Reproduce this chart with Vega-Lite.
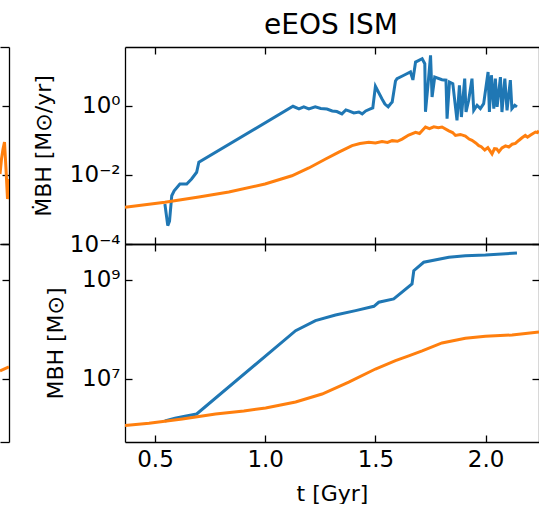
{
  "$schema": "https://vega.github.io/schema/vega-lite/v6.json",
  "padding": {"left": 0, "top": 12, "right": 0, "bottom": 0},
  "background": "white",
  "title": {"text": "eEOS ISM", "fontSize": 28, "font": "DejaVu Sans", "fontWeight": "normal", "color": "black", "anchor": "middle", "frame": "group", "dx": 331, "offset": 6},
  "datasets": {
    "top": [
      {"t": 0.545, "v": 1.44e-3, "s": "A"},
      {"t": 0.558, "v": 3.4e-4, "s": "A"},
      {"t": 0.566, "v": 4.6e-4, "s": "A"},
      {"t": 0.576, "v": 2.5e-3, "s": "A"},
      {"t": 0.587, "v": 3.5e-3, "s": "A"},
      {"t": 0.613, "v": 5.5e-3, "s": "A"},
      {"t": 0.644, "v": 5.5e-3, "s": "A"},
      {"t": 0.666, "v": 7.7e-3, "s": "A"},
      {"t": 0.689, "v": 1.2e-2, "s": "A"},
      {"t": 0.699, "v": 2.34e-2, "s": "A"},
      {"t": 1.126, "v": 0.98, "s": "A"},
      {"t": 1.153, "v": 0.82, "s": "A"},
      {"t": 1.175, "v": 0.94, "s": "A"},
      {"t": 1.198, "v": 0.82, "s": "A"},
      {"t": 1.227, "v": 0.94, "s": "A"},
      {"t": 1.252, "v": 0.85, "s": "A"},
      {"t": 1.280, "v": 0.82, "s": "A"},
      {"t": 1.304, "v": 0.72, "s": "A"},
      {"t": 1.325, "v": 0.69, "s": "A"},
      {"t": 1.348, "v": 0.59, "s": "A"},
      {"t": 1.366, "v": 0.77, "s": "A"},
      {"t": 1.379, "v": 0.72, "s": "A"},
      {"t": 1.402, "v": 0.63, "s": "A"},
      {"t": 1.425, "v": 0.67, "s": "A"},
      {"t": 1.440, "v": 0.59, "s": "A"},
      {"t": 1.456, "v": 0.72, "s": "A"},
      {"t": 1.477, "v": 0.82, "s": "A"},
      {"t": 1.488, "v": 0.875, "s": "A"},
      {"t": 1.500, "v": 3.72, "s": "A"},
      {"t": 1.511, "v": 2.72, "s": "A"},
      {"t": 1.530, "v": 1.6, "s": "A"},
      {"t": 1.543, "v": 1.14, "s": "A"},
      {"t": 1.558, "v": 0.95, "s": "A"},
      {"t": 1.568, "v": 1.14, "s": "A"},
      {"t": 1.576, "v": 1.3, "s": "A"},
      {"t": 1.591, "v": 5.3, "s": "A"},
      {"t": 1.598, "v": 6.2, "s": "A"},
      {"t": 1.629, "v": 7.8, "s": "A"},
      {"t": 1.659, "v": 9.7, "s": "A"},
      {"t": 1.670, "v": 5.7, "s": "A"},
      {"t": 1.682, "v": 18.8, "s": "A"},
      {"t": 1.712, "v": 23.5, "s": "A"},
      {"t": 1.724, "v": 16.8, "s": "A"},
      {"t": 1.727, "v": 0.68, "s": "A"},
      {"t": 1.739, "v": 4.43, "s": "A"},
      {"t": 1.750, "v": 29.5, "s": "A"},
      {"t": 1.757, "v": 1.82, "s": "A"},
      {"t": 1.769, "v": 6.9, "s": "A"},
      {"t": 1.802, "v": 5.8, "s": "A"},
      {"t": 1.820, "v": 5.6, "s": "A"},
      {"t": 1.825, "v": 0.43, "s": "A"},
      {"t": 1.836, "v": 4.96, "s": "A"},
      {"t": 1.851, "v": 4.43, "s": "A"},
      {"t": 1.870, "v": 0.385, "s": "A"},
      {"t": 1.881, "v": 3.98, "s": "A"},
      {"t": 1.890, "v": 0.48, "s": "A"},
      {"t": 1.905, "v": 6.2, "s": "A"},
      {"t": 1.911, "v": 0.67, "s": "A"},
      {"t": 1.923, "v": 1.46, "s": "A"},
      {"t": 1.938, "v": 6.2, "s": "A"},
      {"t": 1.946, "v": 0.75, "s": "A"},
      {"t": 1.961, "v": 1.05, "s": "A"},
      {"t": 1.976, "v": 0.84, "s": "A"},
      {"t": 1.991, "v": 1.17, "s": "A"},
      {"t": 2.011, "v": 9.7, "s": "A"},
      {"t": 2.017, "v": 0.67, "s": "A"},
      {"t": 2.026, "v": 7.8, "s": "A"},
      {"t": 2.037, "v": 0.84, "s": "A"},
      {"t": 2.044, "v": 6.2, "s": "A"},
      {"t": 2.052, "v": 0.94, "s": "A"},
      {"t": 2.067, "v": 6.9, "s": "A"},
      {"t": 2.074, "v": 0.67, "s": "A"},
      {"t": 2.087, "v": 6.2, "s": "A"},
      {"t": 2.097, "v": 0.75, "s": "A"},
      {"t": 2.112, "v": 5.6, "s": "A"},
      {"t": 2.119, "v": 0.84, "s": "A"},
      {"t": 2.132, "v": 1.05, "s": "A"},
      {"t": 2.142, "v": 0.94, "s": "A"},
      {"t": 0.364, "v": 1.16e-3, "s": "B"},
      {"t": 0.545, "v": 1.62e-3, "s": "B"},
      {"t": 0.699, "v": 2.3e-3, "s": "B"},
      {"t": 0.835, "v": 3.2e-3, "s": "B"},
      {"t": 0.999, "v": 5.5e-3, "s": "B"},
      {"t": 1.121, "v": 9.5e-3, "s": "B"},
      {"t": 1.198, "v": 1.6e-2, "s": "B"},
      {"t": 1.274, "v": 2.9e-2, "s": "B"},
      {"t": 1.334, "v": 4.6e-2, "s": "B"},
      {"t": 1.394, "v": 7.1e-2, "s": "B"},
      {"t": 1.430, "v": 8.2e-2, "s": "B"},
      {"t": 1.470, "v": 8.9e-2, "s": "B"},
      {"t": 1.500, "v": 8.5e-2, "s": "B"},
      {"t": 1.530, "v": 9.3e-2, "s": "B"},
      {"t": 1.555, "v": 8.8e-2, "s": "B"},
      {"t": 1.576, "v": 9.9e-2, "s": "B"},
      {"t": 1.600, "v": 0.095, "s": "B"},
      {"t": 1.621, "v": 0.11, "s": "B"},
      {"t": 1.651, "v": 0.144, "s": "B"},
      {"t": 1.682, "v": 0.173, "s": "B"},
      {"t": 1.700, "v": 0.16, "s": "B"},
      {"t": 1.727, "v": 0.246, "s": "B"},
      {"t": 1.745, "v": 0.22, "s": "B"},
      {"t": 1.765, "v": 0.25, "s": "B"},
      {"t": 1.785, "v": 0.235, "s": "B"},
      {"t": 1.802, "v": 0.246, "s": "B"},
      {"t": 1.833, "v": 0.19, "s": "B"},
      {"t": 1.850, "v": 0.17, "s": "B"},
      {"t": 1.863, "v": 0.14, "s": "B"},
      {"t": 1.885, "v": 0.15, "s": "B"},
      {"t": 1.908, "v": 0.135, "s": "B"},
      {"t": 1.925, "v": 0.11, "s": "B"},
      {"t": 1.938, "v": 0.101, "s": "B"},
      {"t": 1.955, "v": 0.085, "s": "B"},
      {"t": 1.969, "v": 0.071, "s": "B"},
      {"t": 1.980, "v": 0.066, "s": "B"},
      {"t": 1.996, "v": 0.053, "s": "B"},
      {"t": 2.010, "v": 0.062, "s": "B"},
      {"t": 2.029, "v": 0.041, "s": "B"},
      {"t": 2.040, "v": 0.058, "s": "B"},
      {"t": 2.050, "v": 0.057, "s": "B"},
      {"t": 2.060, "v": 0.047, "s": "B"},
      {"t": 2.074, "v": 0.061, "s": "B"},
      {"t": 2.090, "v": 0.07, "s": "B"},
      {"t": 2.105, "v": 0.065, "s": "B"},
      {"t": 2.120, "v": 0.078, "s": "B"},
      {"t": 2.135, "v": 0.082, "s": "B"},
      {"t": 2.150, "v": 0.10, "s": "B"},
      {"t": 2.165, "v": 0.12, "s": "B"},
      {"t": 2.180, "v": 0.14, "s": "B"},
      {"t": 2.190, "v": 0.125, "s": "B"},
      {"t": 2.204, "v": 0.144, "s": "B"},
      {"t": 2.215, "v": 0.16, "s": "B"},
      {"t": 2.226, "v": 0.176, "s": "B"},
      {"t": 2.235, "v": 0.17, "s": "B"},
      {"t": 2.242, "v": 0.19, "s": "B"}
    ],
    "bottom": [
      {"t": 0.545, "v": 1.42e6, "s": "A"},
      {"t": 0.591, "v": 1.62e6, "s": "A"},
      {"t": 0.636, "v": 1.77e6, "s": "A"},
      {"t": 0.689, "v": 1.96e6, "s": "A"},
      {"t": 1.138, "v": 9.46e7, "s": "A"},
      {"t": 1.228, "v": 1.51e8, "s": "A"},
      {"t": 1.319, "v": 1.96e8, "s": "A"},
      {"t": 1.410, "v": 2.4e8, "s": "A"},
      {"t": 1.493, "v": 2.94e8, "s": "A"},
      {"t": 1.515, "v": 3.55e8, "s": "A"},
      {"t": 1.583, "v": 4.13e8, "s": "A"},
      {"t": 1.666, "v": 8.3e8, "s": "A"},
      {"t": 1.674, "v": 1.54e9, "s": "A"},
      {"t": 1.719, "v": 2.28e9, "s": "A"},
      {"t": 1.833, "v": 2.88e9, "s": "A"},
      {"t": 1.908, "v": 3.1e9, "s": "A"},
      {"t": 1.999, "v": 3.2e9, "s": "A"},
      {"t": 2.142, "v": 3.51e9, "s": "A"},
      {"t": 0.364, "v": 1.15e6, "s": "B"},
      {"t": 0.473, "v": 1.27e6, "s": "B"},
      {"t": 0.624, "v": 1.56e6, "s": "B"},
      {"t": 0.775, "v": 1.96e6, "s": "B"},
      {"t": 0.903, "v": 2.26e6, "s": "B"},
      {"t": 1.002, "v": 2.6e6, "s": "B"},
      {"t": 1.138, "v": 3.43e6, "s": "B"},
      {"t": 1.258, "v": 4.97e6, "s": "B"},
      {"t": 1.379, "v": 8.6e6, "s": "B"},
      {"t": 1.500, "v": 1.59e7, "s": "B"},
      {"t": 1.591, "v": 2.34e7, "s": "B"},
      {"t": 1.651, "v": 2.92e7, "s": "B"},
      {"t": 1.712, "v": 3.68e7, "s": "B"},
      {"t": 1.802, "v": 5.34e7, "s": "B"},
      {"t": 1.908, "v": 6.64e7, "s": "B"},
      {"t": 1.999, "v": 7.29e7, "s": "B"},
      {"t": 2.120, "v": 7.74e7, "s": "B"},
      {"t": 2.242, "v": 8.9e7, "s": "B"}
    ],
    "lefttop": [
      {"t": 2.200, "v": 0.0107},
      {"t": 2.207, "v": 0.0291},
      {"t": 2.214, "v": 0.0567},
      {"t": 2.221, "v": 0.0905},
      {"t": 2.228, "v": 0.0149},
      {"t": 2.235, "v": 0.00201},
      {"t": 2.242, "v": 0.00766}
    ],
    "leftbot": [
      {"t": 2.200, "v": 1.45e7},
      {"t": 2.242, "v": 1.75e7}
    ]
  },
  "hconcat": [
    {
      "vconcat": [
        {
          "width": 9, "height": 197,
          "data": {"name": "lefttop"},
          "layer": [
            {"mark": {"type": "line", "color": "#ff7f0e", "strokeWidth": 3, "clip": true},
             "encoding": {
               "x": {"field": "t", "type": "quantitative", "scale": {"domain": [2.2, 2.242], "nice": false, "zero": false}, "axis": {"orient": "bottom", "ticks": false, "labels": false, "title": null}},
               "y": {"field": "v", "type": "quantitative", "scale": {"type": "log", "domain": [0.0001, 51.3], "nice": false}, "axis": {"orient": "right", "values": [0.0001, 0.01, 1], "labels": false, "title": null}}
             }},
            {"mark": {"type": "line", "strokeOpacity": 0},
             "encoding": {
               "x": {"field": "t", "type": "quantitative", "scale": {"domain": [2.2, 2.242], "nice": false, "zero": false}, "axis": {"orient": "top", "ticks": false, "labels": false, "title": null}},
               "y": {"field": "v", "type": "quantitative", "scale": {"type": "log", "domain": [0.0001, 51.3], "nice": false}, "axis": null}
             }}
          ],
          "resolve": {"axis": {"x": "independent", "y": "independent"}}
        },
        {
          "width": 9, "height": 198,
          "data": {"name": "leftbot"},
          "layer": [
            {"mark": {"type": "line", "color": "#ff7f0e", "strokeWidth": 3, "clip": true},
             "encoding": {
               "x": {"field": "t", "type": "quantitative", "scale": {"domain": [2.2, 2.242], "nice": false, "zero": false}, "axis": {"orient": "bottom", "ticks": false, "labels": false, "title": null}},
               "y": {"field": "v", "type": "quantitative", "scale": {"type": "log", "domain": [533000, 5.33e9], "nice": false}, "axis": {"orient": "right", "values": [1e7, 1e9], "labels": false, "title": null}}
             }},
            {"mark": {"type": "line", "strokeOpacity": 0},
             "encoding": {
               "x": {"field": "t", "type": "quantitative", "scale": {"domain": [2.2, 2.242], "nice": false, "zero": false}, "axis": {"orient": "top", "ticks": false, "labels": false, "title": null}},
               "y": {"field": "v", "type": "quantitative", "scale": {"type": "log", "domain": [533000, 5.33e9], "nice": false}, "axis": null}
             }}
          ],
          "resolve": {"axis": {"x": "independent", "y": "independent"}}
        }
      ],
      "spacing": 0,
      "bounds": "flush"
    },
    {
      "vconcat": [
        {
          "width": 414, "height": 197,
          "data": {"name": "top"},
          "layer": [
            {"mark": {"type": "line", "strokeWidth": 3, "clip": true},
             "encoding": {
               "x": {"field": "t", "type": "quantitative", "scale": {"domain": [0.364, 2.242], "nice": false, "zero": false}, "axis": {"orient": "bottom", "values": [0.5, 1, 1.5, 2], "labels": false, "title": null}},
               "y": {"field": "v", "type": "quantitative", "scale": {"type": "log", "domain": [0.0001, 51.3], "nice": false}, "axis": {"orient": "left", "values": [0.0001, 0.01, 1], "labelPadding": 12, "labelFontSize": 23, "labelExpr": "datum.value > 0.5 ? '10⁰' : (datum.value > 0.005 ? '10⁻²' : '10⁻⁴')", "title": "ṀBH [M⊙/yr]", "titlePadding": 14}},
               "color": {"field": "s", "type": "nominal", "scale": {"domain": ["A", "B"], "range": ["#1f77b4", "#ff7f0e"]}, "legend": null}
             }},
            {"mark": {"type": "line", "strokeOpacity": 0},
             "encoding": {
               "x": {"field": "t", "type": "quantitative", "scale": {"domain": [0.364, 2.242], "nice": false, "zero": false}, "axis": {"orient": "top", "values": [0.5, 1, 1.5, 2], "labels": false, "title": null}},
               "y": {"field": "v", "type": "quantitative", "scale": {"type": "log", "domain": [0.0001, 51.3], "nice": false}, "axis": {"orient": "right", "values": [0.0001, 0.01, 1], "labels": false, "title": null}},
               "detail": {"field": "s"}
             }}
          ],
          "resolve": {"axis": {"x": "independent", "y": "independent"}}
        },
        {
          "width": 414, "height": 198,
          "data": {"name": "bottom"},
          "layer": [
            {"mark": {"type": "line", "strokeWidth": 3, "clip": true},
             "encoding": {
               "x": {"field": "t", "type": "quantitative", "scale": {"domain": [0.364, 2.242], "nice": false, "zero": false}, "axis": {"orient": "bottom", "values": [0.5, 1, 1.5, 2], "format": ".1f", "labelPadding": 13, "labelFontSize": 23, "title": "t [Gyr]"}},
               "y": {"field": "v", "type": "quantitative", "scale": {"type": "log", "domain": [533000, 5.33e9], "nice": false}, "axis": {"orient": "left", "values": [1e7, 1e9], "labelPadding": 12, "labelFontSize": 23, "labelExpr": "datum.value > 1e8 ? '10⁹' : '10⁷'", "title": "MBH [M⊙]", "titlePadding": 14}},
               "color": {"field": "s", "type": "nominal", "scale": {"domain": ["A", "B"], "range": ["#1f77b4", "#ff7f0e"]}, "legend": null}
             }},
            {"mark": {"type": "line", "strokeOpacity": 0},
             "encoding": {
               "x": {"field": "t", "type": "quantitative", "scale": {"domain": [0.364, 2.242], "nice": false, "zero": false}, "axis": {"orient": "top", "values": [0.5, 1, 1.5, 2], "labels": false, "title": null}},
               "y": {"field": "v", "type": "quantitative", "scale": {"type": "log", "domain": [533000, 5.33e9], "nice": false}, "axis": {"orient": "right", "values": [1e7, 1e9], "labels": false, "title": null}},
               "detail": {"field": "s"}
             }}
          ],
          "resolve": {"axis": {"x": "independent", "y": "independent"}}
        }
      ],
      "spacing": 0,
      "bounds": "flush"
    }
  ],
  "spacing": 125,
  "bounds": "flush",
  "config": {
    "view": {"stroke": null},
    "font": "DejaVu Sans",
    "axis": {
      "grid": false,
      "domainColor": "black",
      "domainWidth": 1.3,
      "tickColor": "black",
      "tickWidth": 1.3,
      "tickSize": -7,
      "labelColor": "black",
      "titleColor": "black",
      "labelFont": "DejaVu Sans",
      "titleFont": "DejaVu Sans",
      "labelFontSize": 22,
      "titleFontSize": 22,
      "titleFontWeight": "normal",
      "labelFlush": false,
      "labelOverlap": false,
      "labelPadding": 9,
      "titlePadding": 12
    }
  }
}
